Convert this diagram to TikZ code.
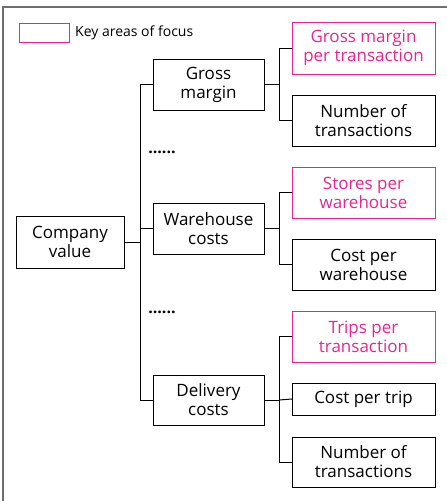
\documentclass[tikz,border=0pt]{standalone}
\usepackage{fontspec}
\setmainfont{Open Sans}
\usetikzlibrary{positioning}
\definecolor{focuspink}{RGB}{232,36,142}
\definecolor{framegray}{RGB}{110,110,110}
\tikzset{x=1pt,y=-1pt,
    line width=1.1pt,
    box/.style={draw,rectangle,align=center,inner sep=0pt,
        font=\fontsize{17}{19}\selectfont},
    midbox/.style={box,minimum width=111pt,minimum height=51pt},
    leafbox/.style={box,minimum width=143pt,minimum height=51pt},
    focus/.style={draw=focuspink,text=focuspink},
    link/.style={line width=1pt},
    dotsnode/.style={font=\fontsize{16}{16}\bfseries,inner sep=0pt}}

\begin{document}
\begin{tikzpicture}
\useasboundingbox (0,0) rectangle (447,501);
\draw[framegray,line width=1.5pt] (3,501) |- (447,7);
% legend
\node[draw=focuspink,minimum width=50pt,minimum height=19pt,inner sep=0pt] (key) at (44,32.5) {};
\node[anchor=west,inner sep=0pt,font=\fontsize{14}{16}\selectfont] (keytext) at (75,33) {Key areas of focus};
% tree
\node[box,minimum width=108pt,minimum height=52pt] (cv) at (70,242) {Company\\value};
\node[midbox] (gm) at (208.5,84.5) {Gross\\margin};
\node[midbox] (wh) at (208.5,228.5) {Warehouse\\costs};
\node[midbox,minimum height=50pt] (dc) at (208.5,400) {Delivery\\costs};
\node[leafbox,focus,minimum height=52pt] (gmpt) at (363.5,48) {Gross margin\\per transaction};
\node[leafbox] (nt1) at (363.5,120.5) {Number of\\transactions};
\node[leafbox,focus] (spw) at (363.5,192.5) {Stores per\\warehouse};
\node[leafbox] (cpw) at (363.5,264.5) {Cost per\\warehouse};
\node[leafbox,focus] (tpt) at (363.5,336.5) {Trips per\\transaction};
\node[leafbox,minimum height=32pt] (cpt) at (363.5,399) {Cost per trip};
\node[leafbox,minimum height=50pt] (nt2) at (363.5,462) {Number of\\transactions};
\node[dotsnode] (dots1) at (162,152) {......};
\node[dotsnode] (dots2) at (162,312) {......};
% connectors
\draw[link] (cv.east) -- ++(16,0) coordinate (trunk);
\draw[link] (trunk) |- (gm.west);
\draw[link] (trunk) |- (wh.west);
\draw[link] (trunk) |- (dc.west);
\foreach \p/\a/\b in {gm/gmpt/nt1,wh/spw/cpw,dc/tpt/nt2} {
  \draw[link] (\p.east) -- ++(15,0) coordinate (\p-fork);
  \draw[link] (\p-fork) |- (\a.west);
  \draw[link] (\p-fork) |- (\b.west);
}
\draw[link] (dc-fork) -- (cpt.west);
\end{tikzpicture}
\end{document}
